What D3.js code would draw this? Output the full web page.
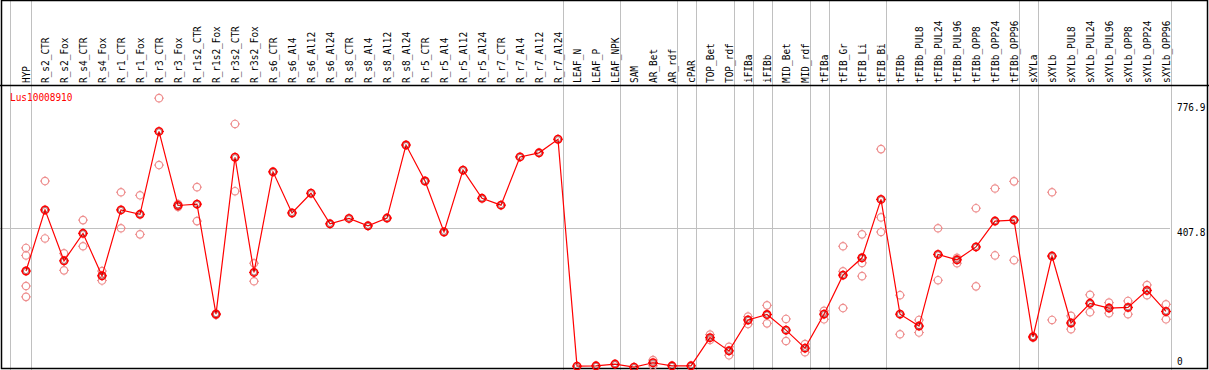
<!DOCTYPE html>
<html lang="en">
<head>
  <meta charset="UTF-8" />
  <title>Lus10008910 expression</title>
  <script src="https://d3js.org/d3.v7.min.js"></script>
  <style>
    html, body {
      margin: 0;
      padding: 0;
      background: #fff;
    }
    svg {
      display: block;
      font-family: "DejaVu Sans Mono", "Liberation Mono", monospace;
      font-size: 10.5px;
    }
  </style>
</head>
<body>
  <svg width="1209" height="370"></svg>

  <script>
    // ---------------------------------------------------------
    // Data
    // ---------------------------------------------------------
    const geneName = "Lus10008910";

    const categories = [
      "HYP", "R_s2_CTR", "R_s2_Fox", "R_s4_CTR", "R_s4_Fox", "R_r1_CTR", "R_r1_Fox",
      "R_r3_CTR", "R_r3_Fox", "R_r1s2_CTR", "R_r1s2_Fox", "R_r3s2_CTR", "R_r3s2_Fox",
      "R_s6_CTR", "R_s6_Al4", "R_s6_Al12", "R_s6_Al24", "R_s8_CTR", "R_s8_Al4", "R_s8_Al12",
      "R_s8_Al24", "R_r5_CTR", "R_r5_Al4", "R_r5_Al12", "R_r5_Al24", "R_r7_CTR", "R_r7_Al4",
      "R_r7_Al12", "R_r7_Al24", "LEAF_N", "LEAF_P", "LEAF_NPK", "SAM", "AR_Bet", "AR_rdf",
      "cPAR", "TOP_Bet", "TOP_rdf", "iFIBa", "iFIBb", "MID_Bet", "MID_rdf", "tFIBa",
      "tFIB_Gr", "tFIB_Li", "tFIB_Bi", "tFIBb", "tFIBb_PUL8", "tFIBb_PUL24", "tFIBb_PUL96",
      "tFIBb_OPP8", "tFIBb_OPP24", "tFIBb_OPP96", "sXYLa", "sXYLb", "sXYLb_PUL8",
      "sXYLb_PUL24", "sXYLb_PUL96", "sXYLb_OPP8", "sXYLb_OPP24", "sXYLb_OPP96"
    ];

    // mean expression per sample
    const means = [
      281, 461, 311, 392, 267, 461, 448, 692, 474, 478, 154, 616, 277,
      573, 452, 510, 420, 436, 414, 437, 652, 546, 396, 578, 495, 475, 617, 629, 669,
      1, 2, 7, -2, 11, 2, 2, 85, 46, 137, 153, 107, 54, 154,
      269, 320, 492, 154, 119, 330, 314, 352, 428, 431,
      87, 325, 128, 186, 172, 174, 224, 162
    ];

    // individual replicates per sample (empty = none drawn)
    const replicates = [
      [349, 327, 237, 205], [546, 377], [333, 283], [431, 354], [281, 253], [513, 407], [504, 389],
      [790, 593], [478, 470], [528, 428], [156, 152], [714, 516], [304, 251],
      [], [], [], [], [], [], [], [], [], [], [], [], [], [], [], [],
      [], [], [], [], [19, 2], [], [], [94, 78], [58, 33], [147, 125], [180, 127], [140, 75], [66, 42], [164, 139],
      [354, 280, 172], [389, 305, 266], [640, 439, 396], [210, 95], [137, 100], [407, 254], [320, 304],
      [466, 236], [524, 327], [545, 313],
      [89, 85], [513, 137], [149, 110], [211, 160], [188, 157], [193, 154], [240, 210], [183, 139]
    ];

    // group boundaries (separator drawn after these samples)
    const groupEnds = ["HYP", "R_r7_Al24", "LEAF_NPK", "AR_rdf", "cPAR", "TOP_rdf", "iFIBa",
      "iFIBb", "MID_rdf", "tFIBa", "tFIB_Bi", "tFIBb_OPP96", "sXYLa", "sXYLb_OPP96"];

    const yTicks = [0, 407.8, 776.9];

    // ---------------------------------------------------------
    // Layout
    // ---------------------------------------------------------
    const W = 1209, H = 370;
    const headerBottom = 85;
    const svg = d3.select("svg");

    const x = d3.scalePoint().domain(categories).range([26, 1166]);
    const y = d3.scaleLinear().domain([0, 776.9]).range([366.5, 102.6]);

    // grid: horizontal line at the middle tick
    svg.append("line")
      .attr("x1", 0).attr("x2", 1170)
      .attr("y1", Math.round(y(407.8)) + 0.5).attr("y2", Math.round(y(407.8)) + 0.5)
      .attr("stroke", "#c0c0c0");

    // vertical separators
    const sepX = [10].concat(groupEnds.map(c => x(c) + 4.5));
    svg.selectAll("line.sep")
      .data(sepX)
      .join("line")
      .attr("class", "sep")
      .attr("x1", d => Math.round(d) + 0.5).attr("x2", d => Math.round(d) + 0.5)
      .attr("y1", 0).attr("y2", H)
      .attr("stroke", "#c0c0c0");

    // frame + header rule
    svg.append("rect")
      .attr("x", 1.5).attr("y", 0.5)
      .attr("width", 1206).attr("height", 368)
      .attr("fill", "none").attr("stroke", "#000").attr("stroke-width", 1.5);
    svg.append("line")
      .attr("x1", 0).attr("x2", W)
      .attr("y1", headerBottom + 0.5).attr("y2", headerBottom + 0.5)
      .attr("stroke", "#000").attr("stroke-width", 1.5);

    // rotated sample labels (narrowed a bit to match the bitmap font)
    svg.selectAll("text.cat")
      .data(categories)
      .join("text")
      .attr("class", "cat")
      .attr("transform", d => `translate(${x(d) + 4},83) rotate(-90) scale(0.9,1)`)
      .attr("fill", "#000")
      .text(d => d);

    // value labels on the right
    svg.selectAll("text.tick")
      .data(yTicks)
      .join("text")
      .attr("class", "tick")
      .attr("transform", d => `translate(1177,${d === 0 ? 365 : y(d) + 8.5}) scale(0.9,1)`)
      .attr("fill", "#000")
      .text(d => d);

    // gene name
    svg.append("text")
      .attr("transform", "translate(10,101) scale(0.9,1)")
      .attr("fill", "#ff0000")
      .text(geneName);

    // ---------------------------------------------------------
    // Markers
    // ---------------------------------------------------------
    function marker(g, cx, cy, color, w) {
      g.append("circle")
        .attr("cx", cx).attr("cy", cy).attr("r", 3.7)
        .attr("fill", "none").attr("stroke", color).attr("stroke-width", w);
      const ticks = [[0, -1], [0, 1], [-1, 0], [1, 0]];
      ticks.forEach(([dx, dy]) => {
        g.append("line")
          .attr("x1", cx + dx * 4).attr("y1", cy + dy * 4)
          .attr("x2", cx + dx * 5).attr("y2", cy + dy * 5)
          .attr("stroke", color).attr("stroke-width", 1);
      });
    }

    // replicates (light)
    const repG = svg.append("g");
    replicates.forEach((reps, i) => {
      reps.forEach(v => marker(repG, x(categories[i]), y(v), "#ee8f8f", 1.2));
    });

    // mean line
    const line = d3.line()
      .x((d, i) => x(categories[i]))
      .y(d => y(d));
    svg.append("path")
      .datum(means)
      .attr("d", line)
      .attr("fill", "none")
      .attr("stroke", "#ff0000")
      .attr("stroke-width", 1.2);

    // mean markers
    const meanG = svg.append("g");
    means.forEach((v, i) => {
      const cx = x(categories[i]), cy = y(v);
      marker(meanG, cx, cy, "#ff0000", 1.6);
      meanG.append("circle")
        .attr("cx", cx).attr("cy", cy).attr("r", 2.6)
        .attr("fill", "none").attr("stroke", "#600000").attr("stroke-width", 0.5);
    });
  </script>
</body>
</html>
